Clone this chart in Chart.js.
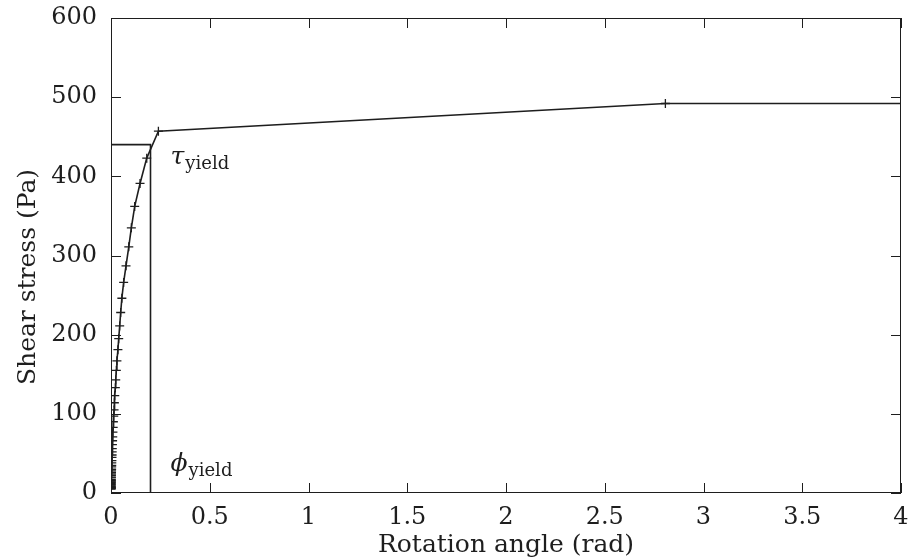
<!DOCTYPE html>
<html>
<head>
<meta charset="utf-8">
<script src="https://cdn.jsdelivr.net/npm/chart.js@4.4.1/dist/chart.umd.min.js"></script>
<style>
  html, body { margin: 0; padding: 0; background: #fff; }
  #wrap { width: 909px; height: 560px; }
</style>
</head>
<body>
<div id="wrap"><canvas id="chart" width="909" height="560"></canvas></div>
<script>
// Shear stress ramp: rotation angle (rad) vs shear stress (Pa)
const angleRad = [
  0.0005, 0.0006, 0.0006, 0.0007, 0.0007, 0.0008, 0.0008, 0.0009, 0.001, 0.0011,
  0.0012, 0.0013, 0.0014, 0.0015, 0.0016, 0.0017, 0.0019, 0.002, 0.0022, 0.0024,
  0.0026, 0.0028, 0.0031, 0.0034, 0.0037, 0.004, 0.0045, 0.005, 0.0055, 0.006,
  0.0065, 0.0072, 0.008, 0.0088, 0.0098, 0.011, 0.012, 0.014, 0.0155, 0.017,
  0.019, 0.022, 0.024, 0.027, 0.030, 0.035, 0.039, 0.044, 0.049, 0.055,
  0.064, 0.076, 0.090, 0.103, 0.120, 0.147, 0.181, 0.240, 2.807, 4.6
];
const stressPa = [
  5, 5.5, 6, 6.5, 7, 7.5, 8, 9, 10, 11,
  12, 13, 14, 15, 16, 17, 19, 20, 22, 24,
  26, 28, 30, 33, 35, 38, 41, 45, 48, 52,
  56, 61, 66, 71, 77, 83, 90, 97, 105, 114,
  123, 133, 143, 155, 167, 181, 195, 211, 228, 246,
  266, 287, 311, 335, 362, 391, 423, 457, 492, 492
];

const phiYield = 0.2;
const tauYield = 440;

const xTicks = [0, 0.5, 1, 1.5, 2, 2.5, 3, 3.5, 4];
const yTicks = [0, 100, 200, 300, 400, 500, 600];

const INK = "#1e1e1e";
const SERIF = "'DejaVu Serif', 'Liberation Serif', serif";

const points = angleRad.map((x, i) => ({ x, y: stressPa[i] }));
const yieldLines = [
  { x: 0, y: tauYield },
  { x: phiYield, y: tauYield },
  { x: phiYield, y: 0 },
];

// inward ticks on all four sides, frame, y title and the yield labels
const decorPlugin = {
  id: "decor",
  afterDraw(chart) {
    const { ctx, chartArea: a } = chart;
    const xs = chart.scales.x;
    const ys = chart.scales.y;
    const len = 10;
    ctx.save();
    ctx.strokeStyle = INK;
    ctx.lineWidth = 1;
    ctx.strokeRect(a.left + 0.5, a.top + 0.5, a.right - a.left - 1, a.bottom - a.top - 1);
    ctx.beginPath();
    xTicks.forEach((v) => {
      const px = Math.round(xs.getPixelForValue(v)) + 0.5;
      ctx.moveTo(px, a.bottom);
      ctx.lineTo(px, a.bottom - len);
      ctx.moveTo(px, a.top);
      ctx.lineTo(px, a.top + len);
    });
    yTicks.forEach((v) => {
      const py = Math.round(ys.getPixelForValue(v)) + 0.5;
      ctx.moveTo(a.left, py);
      ctx.lineTo(a.left + len, py);
      ctx.moveTo(a.right, py);
      ctx.lineTo(a.right - len, py);
    });
    ctx.stroke();

    // y axis title
    ctx.fillStyle = INK;
    ctx.font = "25px " + SERIF;
    ctx.textAlign = "center";
    ctx.textBaseline = "middle";
    ctx.translate(28, 277);
    ctx.rotate(-Math.PI / 2);
    ctx.fillText("Shear stress (Pa)", 0, 0);
    ctx.restore();

    // yield annotations
    const drawSub = (sym, x, y) => {
      ctx.save();
      ctx.fillStyle = INK;
      ctx.textBaseline = "alphabetic";
      ctx.textAlign = "left";
      ctx.font = "italic 25px " + SERIF;
      ctx.fillText(sym, x, y);
      const w = ctx.measureText(sym).width;
      ctx.font = "18px " + SERIF;
      ctx.fillText("yield", x + w + 1, y + 5);
      ctx.restore();
    };
    const px = xs.getPixelForValue(phiYield);
    drawSub("\u03c4", px + 20, ys.getPixelForValue(tauYield) + 19);
    drawSub("\u03d5", px + 20, ys.getPixelForValue(0) - 22);
  },
};

new Chart(document.getElementById("chart"), {
  type: "scatter",
  data: {
    datasets: [
      {
        data: yieldLines,
        showLine: true,
        borderColor: INK,
        borderWidth: 1.6,
        pointRadius: 0,
        fill: false,
      },
      {
        data: points,
        showLine: true,
        borderColor: INK,
        borderWidth: 1.6,
        pointStyle: "cross",
        pointRadius: 4.5,
        pointBorderColor: INK,
        pointBorderWidth: 1.3,
        fill: false,
        tension: 0,
      },
    ],
  },
  options: {
    responsive: false,
    animation: false,
    layout: { padding: { left: 0, right: 8, top: 18, bottom: 0 } },
    plugins: {
      legend: { display: false },
      tooltip: { enabled: false },
    },
    scales: {
      x: {
        type: "linear",
        min: 0,
        max: 4,
        afterFit: (s) => {
          s.height = 67;
          s.paddingLeft = 0;
          s.paddingRight = 0;
        },
        afterBuildTicks: (s) => { s.ticks = xTicks.map((v) => ({ value: v })); },
        grid: { display: false, drawTicks: false },
        border: { display: false },
        ticks: {
          color: INK,
          padding: 10,
          maxRotation: 0,
          font: { family: SERIF, size: 24 },
          callback: (v) => String(v),
        },
        title: {
          display: true,
          text: "Rotation angle (rad)",
          color: INK,
          padding: { top: 0, bottom: 0 },
          font: { family: SERIF, size: 25 },
        },
      },
      y: {
        type: "linear",
        min: 0,
        max: 600,
        afterFit: (s) => {
          s.width = 111;
          s.paddingTop = 0;
          s.paddingBottom = 0;
        },
        afterBuildTicks: (s) => { s.ticks = yTicks.map((v) => ({ value: v })); },
        grid: { display: false, drawTicks: false },
        border: { display: false },
        ticks: {
          color: INK,
          padding: 14,
          font: { family: SERIF, size: 24 },
        },
      },
    },
  },
  plugins: [decorPlugin],
});
</script>
</body>
</html>
